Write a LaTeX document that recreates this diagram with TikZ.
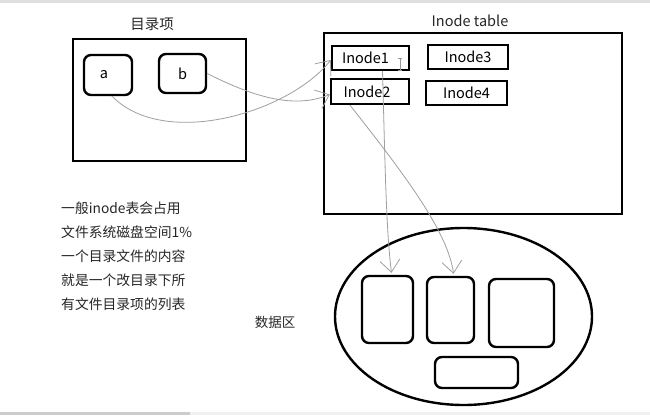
\documentclass[tikz,border=0pt]{standalone}
\usepackage{fontspec}
\newfontfamily\cjk{Noto Sans CJK SC}
\usetikzlibrary{arrows.meta,shapes.geometric,calc}
\tikzset{
  frame/.style={draw=black, line width=2.4pt, inner sep=0pt},
  rbox/.style={frame, rounded corners=7pt},
  ibox/.style={frame, font=\cjk\fontsize{14.5}{16}\selectfont},
  lbl/.style={font=\cjk\fontsize{14.5}{16}\selectfont, inner sep=0pt, text=black!85},
  link/.style={draw=gray!75, line width=0.8pt, -{Straight Barb[length=12pt,width=20pt]}},
}
\begin{document}
\begin{tikzpicture}[x=1pt,y=-1pt]
\useasboundingbox (0,0) rectangle (650,415);
\fill[white] (0,0) rectangle (650,415);
\fill[gray!25] (0,0) rectangle (650,3);
\fill[gray!40] (0,412) rectangle (190,415);
\fill[gray!12] (190,412) rectangle (650,415);

% directory entries
\node[lbl] (t1) at (152,24) {目录项};
\node[frame, minimum width=173pt, minimum height=122pt] (dir) at (159.5,100) {};
\node[rbox, minimum width=48pt, minimum height=40pt, font=\cjk\fontsize{14.5}{16}\selectfont] (a) at (108,75) {\hspace*{-8pt}\raisebox{2pt}{a}};
\node[rbox, minimum width=47pt, minimum height=39pt, font=\cjk\fontsize{14.5}{16}\selectfont] (b) at (182.5,73.5) {\raisebox{-3pt}{b}};

% inode table
\node[lbl] (t2) at (470,21) {Inode table};
\node[frame, minimum width=298pt, minimum height=181pt] (tab) at (473,123.5) {};
\node[ibox, minimum width=77pt, minimum height=24pt] (i1) at (370.5,58) {\hspace*{-10pt}Inode1};
\node[ibox, minimum width=80pt, minimum height=24pt] (i3) at (468,57) {Inode3};
\node[ibox, minimum width=78pt, minimum height=25pt] (i2) at (370,91.5) {\hspace*{-6pt}Inode2};
\node[ibox, minimum width=81pt, minimum height=24pt] (i4) at (466.5,93) {Inode4};
% text cursor
\draw[gray!80, line width=0.7pt] (398,58) -- (402,58) (400,58) -- (400,70) (398,70) -- (402,70);

% notes
\node[anchor=north west, align=left, inner sep=0pt, text=black!85,
      font=\cjk\fontsize{13.8}{23.8}\selectfont] (note) at (61,202)
  {一般inode表会占用\\文件系统磁盘空间1\%\\一个目录文件的内容\\就是一个改目录下所\\有文件目录项的列表};
\node[lbl, font=\cjk\fontsize{13.5}{15}\selectfont] (data) at (275,322) {数据区};

% data area
\node[ellipse, draw=black, line width=2.4pt, inner sep=0pt,
      minimum width=257pt, minimum height=177pt] (ell) at (463.5,316.5) {};
\node[rbox, minimum width=51pt, minimum height=67pt] (d1) at (387.5,309.5) {};
\node[rbox, minimum width=47pt, minimum height=66pt] (d2) at (450.5,310) {};
\node[rbox, minimum width=65pt, minimum height=68pt] (d3) at (521.5,313) {};
\node[rbox, minimum width=83pt, minimum height=31pt] (d4) at (476.5,372.5) {};

% connectors
\draw[link] ($(a.south)+(4,0)$) .. controls (165,150) and (290,112) .. ($(i1.west)+(0,2)$);
\draw[link] (b.east) .. controls (250,95) and (292,110) .. ($(i2.west)+(0,3)$);
\draw[link] ($(i1.south)+(12,0)$) .. controls (385,160) and (386,230) .. ($(d1.north)+(4,-2)$);
\draw[link] ($(i2.south)+(-20,0)$) .. controls (405,175) and (448,232) .. ($(d2.north)+(3,-2)$);
\end{tikzpicture}
\end{document}
